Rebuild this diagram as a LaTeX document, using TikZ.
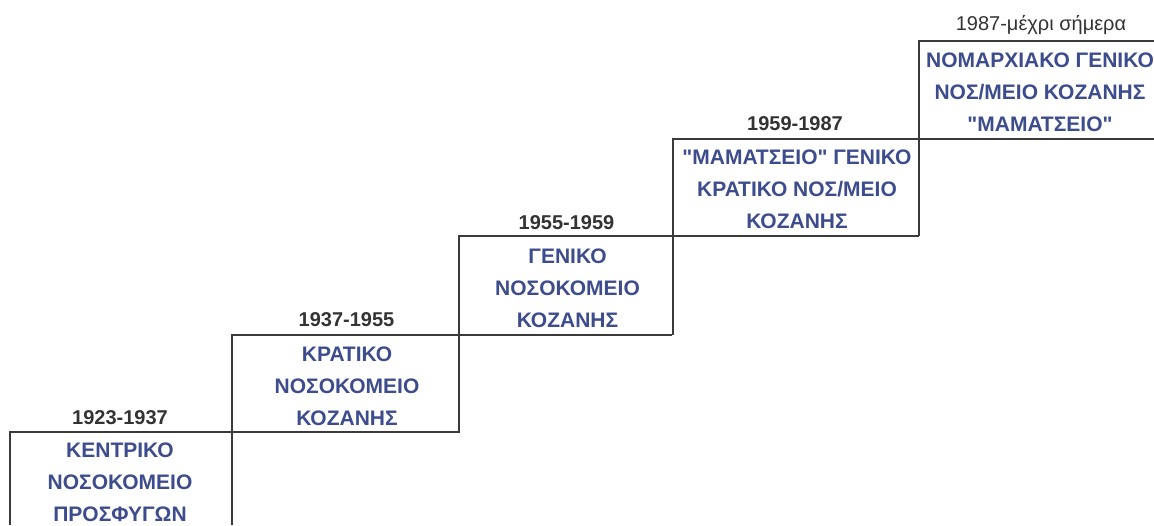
\documentclass[tikz,border=0pt]{standalone}
\usepackage{fontspec}
\setmainfont{Liberation Sans}[Ligatures=TeXOff]
\definecolor{linec}{HTML}{3A3A3A}
\definecolor{yearc}{HTML}{333333}
\definecolor{boxc}{HTML}{3D4C8C}
\begin{document}
\begin{tikzpicture}[x=1pt,y=-1pt,
  stair/.style={draw=linec,line width=1.6pt},
  yearlbl/.style={text=yearc,inner sep=0pt,font=\fontsize{20}{24}\selectfont\bfseries},
  yearreg/.style={text=yearc,inner sep=0pt,font=\fontsize{20}{24}\selectfont},
  boxtxt/.style={text=boxc,inner sep=0pt,anchor=north,align=center,font=\fontsize{21}{32}\selectfont\bfseries}]
\useasboundingbox (0,0) rectangle (1154,525);
% corners
\coordinate (a0) at (10,525);
\coordinate (a1) at (10,432);
\coordinate (a2) at (460,432);
\coordinate (b0) at (232,525);
\coordinate (b1) at (232,335);
\coordinate (b2) at (672,335);
\coordinate (c0) at (459,432);
\coordinate (c1) at (459,236);
\coordinate (c2) at (919,236);
\coordinate (d0) at (673,335);
\coordinate (d1) at (673,139);
\coordinate (d2) at (1154,139);
\coordinate (e0) at (919,236);
\coordinate (e1) at (919,41);
\coordinate (e2) at (1154,41);
\draw[stair] (a0) -- (a1) -- (a2);
\draw[stair] (b0) -- (b1) -- (b2);
\draw[stair] (c0) -- (c1) -- (c2);
\draw[stair] (d0) -- (d1) -- (d2);
\draw[stair] (e0) -- (e1) -- (e2);
% years
\node[yearlbl] (y1) at (120,417.5) {1923-1937};
\node[yearlbl] (y2) at (346.5,320) {1937-1955};
\node[yearlbl] (y3) at (566.5,222.5) {1955-1959};
\node[yearlbl] (y4) at (795,124) {1959-1987};
\node[yearreg] (y5) at (1041,25.5) {1987-μέχρι σήμερα};
% box texts
\node[boxtxt] (t1) at (120,443) {ΚΕΝΤΡΙΚΟ\\ΝΟΣΟΚΟΜΕΙΟ\\ΠΡΟΣΦΥΓΩΝ};
\node[boxtxt] (t2) at (347,347) {ΚΡΑΤΙΚΟ\\ΝΟΣΟΚΟΜΕΙΟ\\ΚΟΖΑΝΗΣ};
\node[boxtxt] (t3) at (567.5,249) {ΓΕΝΙΚΟ\\ΝΟΣΟΚΟΜΕΙΟ\\ΚΟΖΑΝΗΣ};
\node[boxtxt] (t4) at (797,150) {"ΜΑΜΑΤΣΕΙΟ" ΓΕΝΙΚΟ\\ΚΡΑΤΙΚΟ ΝΟΣ/ΜΕΙΟ\\ΚΟΖΑΝΗΣ};
\node[boxtxt] (t5) at (1040,53) {ΝΟΜΑΡΧΙΑΚΟ ΓΕΝΙΚΟ\\ΝΟΣ/ΜΕΙΟ ΚΟΖΑΝΗΣ\\"ΜΑΜΑΤΣΕΙΟ"};
\end{tikzpicture}
\end{document}
